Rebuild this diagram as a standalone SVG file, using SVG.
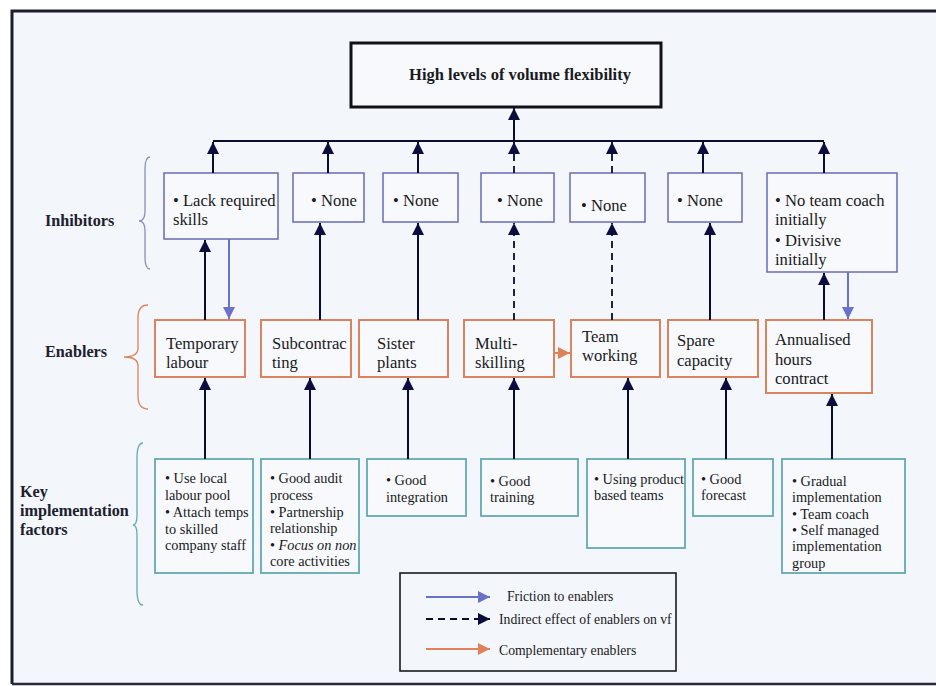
<svg xmlns="http://www.w3.org/2000/svg" width="936" height="686" viewBox="0 0 936 686" font-family="'Liberation Serif', 'Times New Roman', 'DejaVu Serif', serif">
  <style>
    text { font-family: "Liberation Serif", "Times New Roman", "DejaVu Serif", serif; fill: #1a1a22; }
    .title { font-size: 16.5px; font-weight: bold; }
    .lbl { font-size: 16.2px; font-weight: bold; fill: #20202c; }
    .inh { fill: #ffffff; fill-opacity: 0.35; stroke: #7373b8; stroke-width: 1.6; }
    .enb { fill: #ffffff; fill-opacity: 0.35; stroke: #d9845c; stroke-width: 2; }
    .kif { fill: #ffffff; fill-opacity: 0.35; stroke: #63a9b2; stroke-width: 1.8; }
    .t15 { font-size: 16.6px; }
    .t12 { font-size: 14.3px; }
    .t12l { font-size: 13.7px; }
    .solid { stroke: #0c0c2e; stroke-width: 2; fill: none; }
    .dash { stroke: #0c0c2e; stroke-width: 1.8; fill: none; stroke-dasharray: 7 5; }
    .friction { stroke: #6a72c8; stroke-width: 2; fill: none; }
    .comp { stroke: #e0815a; stroke-width: 2; fill: none; }
    .brace { fill: none; stroke-width: 1.3; }
  </style>
  <defs>
    <marker id="ah" markerUnits="userSpaceOnUse" markerWidth="12" markerHeight="12" viewBox="0 0 12 12" refX="12" refY="6" orient="auto">
      <path d="M0,0 L12,6 L0,12 z" fill="#0c0c3e"/>
    </marker>
    <marker id="ahBlue" markerUnits="userSpaceOnUse" markerWidth="12" markerHeight="12" viewBox="0 0 12 12" refX="12" refY="6" orient="auto">
      <path d="M0,0 L12,6 L0,12 z" fill="#6a72c8"/>
    </marker>
    <marker id="ahOrange" markerUnits="userSpaceOnUse" markerWidth="12" markerHeight="12" viewBox="0 0 12 12" refX="12" refY="6" orient="auto">
      <path d="M0,0 L12,6 L0,12 z" fill="#e0815a"/>
    </marker>
  </defs>

  <!-- page and frame -->
  <rect x="0" y="0" width="936" height="686" fill="#ffffff"/>
  <rect x="12" y="11" width="924" height="673" fill="#f3f6fb"/>
  <path d="M12,684 L12,11 L936,11" fill="none" stroke="#1c1c30" stroke-width="3"/>
  <path d="M12,684 L936,684" fill="none" stroke="#2a2a36" stroke-width="2.5"/>

  <!-- goal -->
  <g id="goal">
    <rect x="351" y="43" width="310" height="64" fill="#ffffff" fill-opacity="0.4" stroke="#111118" stroke-width="3"/>
    <text class="title" x="520" y="80" text-anchor="middle">High levels of volume flexibility</text>
  </g>

  <!-- row labels with braces -->
  <g id="label-inhibitors">
    <text class="lbl" x="45" y="226">Inhibitors</text>
    <path class="brace" stroke="#8a8fb8" d="M150,157 Q145,157 145,169 L145,211 Q145,221 139,221 Q145,221 145,231 L145,257 Q145,269 150,269"/>
  </g>
  <g id="label-enablers">
    <text class="lbl" x="45" y="357">Enablers</text>
    <path class="brace" stroke="#d9845c" d="M148,305 Q138,305 138,318 L138,348 Q138,357 124,357 Q138,357 138,366 L138,396 Q138,409 148,409"/>
  </g>
  <g id="label-factors">
    <text class="lbl" x="20" y="497">Key</text>
    <text class="lbl" x="20" y="516">implementation</text>
    <text class="lbl" x="20" y="535">factors</text>
    <path class="brace" stroke="#63a9b2" d="M143,443 Q137,443 137,458 L137,515 Q137,525 133,525 Q137,525 137,535 L137,590 Q137,605 143,605"/>
  </g>

  <!-- inhibitors -->
  <g id="inh-1">
    <rect class="inh" x="164" y="173" width="114" height="66"/>
    <text class="t15" x="173" y="206">• Lack required</text>
    <text class="t15" x="173" y="225">skills</text>
  </g>
  <g id="inh-2">
    <rect class="inh" x="293" y="173" width="71" height="49"/>
    <text class="t15" x="311" y="206">• None</text>
  </g>
  <g id="inh-3">
    <rect class="inh" x="383" y="173" width="75" height="49"/>
    <text class="t15" x="393" y="206">• None</text>
  </g>
  <g id="inh-4">
    <rect class="inh" x="481" y="173" width="73" height="49"/>
    <text class="t15" x="497" y="206">• None</text>
  </g>
  <g id="inh-5">
    <rect class="inh" x="570" y="173" width="75" height="49"/>
    <text class="t15" x="581" y="211">• None</text>
  </g>
  <g id="inh-6">
    <rect class="inh" x="668" y="173" width="74" height="49"/>
    <text class="t15" x="677" y="206">• None</text>
  </g>
  <g id="inh-7">
    <rect class="inh" x="767" y="173" width="130" height="99"/>
    <text class="t15" x="775" y="206">• No team coach</text>
    <text class="t15" x="775" y="225">initially</text>
    <text class="t15" x="775" y="246">• Divisive</text>
    <text class="t15" x="775" y="265">initially</text>
  </g>

  <!-- enablers -->
  <g id="enb-1">
    <rect class="enb" x="155" y="320" width="90" height="57"/>
    <text class="t15" x="166" y="349">Temporary</text>
    <text class="t15" x="166" y="368">labour</text>
  </g>
  <g id="enb-2">
    <rect class="enb" x="261" y="320" width="90" height="57"/>
    <text class="t15" x="272" y="349">Subcontrac</text>
    <text class="t15" x="272" y="368">ting</text>
  </g>
  <g id="enb-3">
    <rect class="enb" x="359" y="320" width="89" height="57"/>
    <text class="t15" x="377" y="349">Sister</text>
    <text class="t15" x="377" y="368">plants</text>
  </g>
  <g id="enb-4">
    <rect class="enb" x="464" y="320" width="90" height="57"/>
    <text class="t15" x="475" y="349">Multi-</text>
    <text class="t15" x="475" y="368">skilling</text>
  </g>
  <g id="enb-5">
    <rect class="enb" x="571" y="320" width="89" height="57"/>
    <text class="t15" x="582" y="342">Team</text>
    <text class="t15" x="582" y="361">working</text>
  </g>
  <g id="enb-6">
    <rect class="enb" x="668" y="320" width="90" height="57"/>
    <text class="t15" x="677" y="346">Spare</text>
    <text class="t15" x="677" y="366">capacity</text>
  </g>
  <g id="enb-7">
    <rect class="enb" x="766" y="320" width="106" height="73"/>
    <text class="t15" x="775" y="345">Annualised</text>
    <text class="t15" x="775" y="365">hours</text>
    <text class="t15" x="775" y="384">contract</text>
  </g>

  <!-- key implementation factors -->
  <g id="kif-1">
    <rect class="kif" x="155" y="459" width="98" height="114"/>
    <text class="t12" x="165" y="483">• Use local</text>
    <text class="t12" x="165" y="500">labour pool</text>
    <text class="t12" x="165" y="517">• Attach  temps</text>
    <text class="t12" x="165" y="534">to skilled</text>
    <text class="t12" x="165" y="550">company staff</text>
  </g>
  <g id="kif-2">
    <rect class="kif" x="261" y="459" width="98" height="114"/>
    <text class="t12" x="270" y="483">• Good audit</text>
    <text class="t12" x="270" y="500">process</text>
    <text class="t12" x="270" y="517">• Partnership</text>
    <text class="t12" x="270" y="533">relationship</text>
    <text class="t12" x="270" y="550"><tspan>• </tspan><tspan font-style="italic">Focus on non</tspan></text>
    <text class="t12" x="270" y="566">core activities</text>
  </g>
  <g id="kif-3">
    <rect class="kif" x="367" y="459" width="99" height="57"/>
    <text class="t12" x="386" y="485">• Good</text>
    <text class="t12" x="386" y="502">integration</text>
  </g>
  <g id="kif-4">
    <rect class="kif" x="481" y="459" width="97" height="57"/>
    <text class="t12" x="490" y="486">• Good</text>
    <text class="t12" x="490" y="502">training</text>
  </g>
  <g id="kif-5">
    <rect class="kif" x="587" y="459" width="98" height="89"/>
    <text class="t12" x="594" y="484">• Using product</text>
    <text class="t12" x="594" y="500">based teams</text>
  </g>
  <g id="kif-6">
    <rect class="kif" x="693" y="459" width="80" height="57"/>
    <text class="t12" x="701" y="484">• Good</text>
    <text class="t12" x="701" y="500">forecast</text>
  </g>
  <g id="kif-7">
    <rect class="kif" x="782" y="459" width="123" height="114"/>
    <text class="t12" x="792" y="486">• Gradual</text>
    <text class="t12" x="792" y="502">implementation</text>
    <text class="t12" x="792" y="519">• Team coach</text>
    <text class="t12" x="792" y="535">• Self managed</text>
    <text class="t12" x="792" y="551">implementation</text>
    <text class="t12" x="792" y="568">group</text>
  </g>

  <!-- connectors -->
  <g id="connectors">
    <!-- bus into the goal -->
    <path class="solid" d="M213,141 L824,141"/>
    <path class="solid" d="M514,141 L514,108" marker-end="url(#ah)"/>
    <!-- inhibitors to bus -->
    <path class="solid" d="M213,173 L213,142" marker-end="url(#ah)"/>
    <path class="solid" d="M328,173 L328,142" marker-end="url(#ah)"/>
    <path class="solid" d="M418,173 L418,142" marker-end="url(#ah)"/>
    <path class="dash" d="M514,173 L514,142" marker-end="url(#ah)"/>
    <path class="dash" d="M612,173 L612,142" marker-end="url(#ah)"/>
    <path class="solid" d="M703,173 L703,142" marker-end="url(#ah)"/>
    <path class="solid" d="M824,173 L824,142" marker-end="url(#ah)"/>
    <!-- enablers to inhibitors -->
    <path class="solid" d="M205,320 L205,240" marker-end="url(#ah)"/>
    <path class="solid" d="M320,320 L320,223" marker-end="url(#ah)"/>
    <path class="solid" d="M418,320 L418,223" marker-end="url(#ah)"/>
    <path class="dash" d="M514,320 L514,223" marker-end="url(#ah)"/>
    <path class="dash" d="M612,320 L612,223" marker-end="url(#ah)"/>
    <path class="solid" d="M710,320 L710,223" marker-end="url(#ah)"/>
    <path class="solid" d="M824,320 L824,273" marker-end="url(#ah)"/>
    <!-- friction back onto enablers -->
    <path class="friction" d="M229,239 L229,319" marker-end="url(#ahBlue)"/>
    <path class="friction" d="M848,272 L848,319" marker-end="url(#ahBlue)"/>
    <!-- complementary enablers -->
    <path class="comp" d="M554,353 L570,353" marker-end="url(#ahOrange)"/>
    <!-- factors to enablers -->
    <path class="solid" d="M205,459 L205,378" marker-end="url(#ah)"/>
    <path class="solid" d="M310,459 L310,378" marker-end="url(#ah)"/>
    <path class="solid" d="M408,459 L408,378" marker-end="url(#ah)"/>
    <path class="solid" d="M514,459 L514,378" marker-end="url(#ah)"/>
    <path class="solid" d="M628,459 L628,378" marker-end="url(#ah)"/>
    <path class="solid" d="M726,459 L726,378" marker-end="url(#ah)"/>
    <path class="solid" d="M832,459 L832,394" marker-end="url(#ah)"/>
  </g>

  <!-- legend -->
  <g id="legend">
    <rect x="400" y="573" width="276" height="98" fill="none" stroke="#1a1a22" stroke-width="1.6"/>
    <path class="friction" d="M426,597 L490,597" marker-end="url(#ahBlue)"/>
    <text class="t12l" x="507" y="601">Friction to enablers</text>
    <path class="dash" d="M426,619 L490,619" stroke-dasharray="6 5" marker-end="url(#ah)"/>
    <text class="t12l" x="499" y="624">Indirect effect of enablers on vf</text>
    <path class="comp" d="M426,649 L490,649" marker-end="url(#ahOrange)"/>
    <text class="t12l" x="499" y="655">Complementary enablers</text>
  </g>
</svg>
